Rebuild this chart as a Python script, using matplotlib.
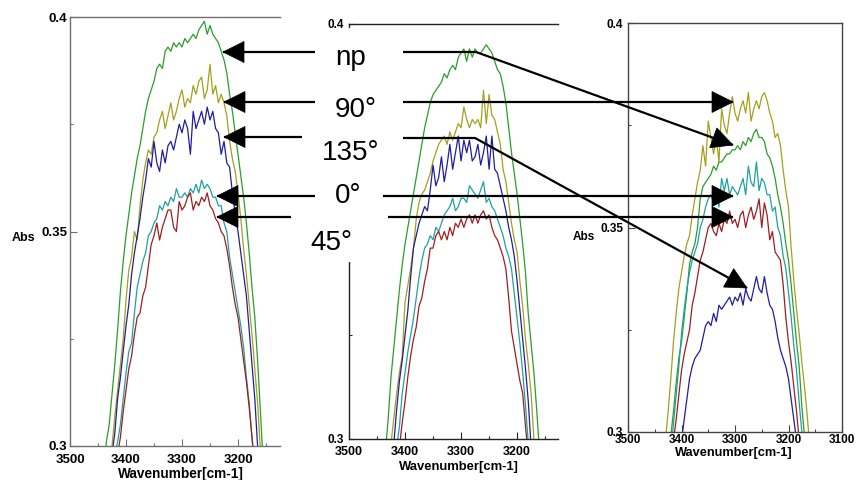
import numpy as np
import matplotlib
matplotlib.use('Agg')
import matplotlib.pyplot as plt
from matplotlib.patches import Polygon, Rectangle

W, H = 865, 480

# ---------------- data (absorbance vs wavenumber) ----------------
wavenumber = [3440, 3435, 3430, 3425, 3420, 3415, 3410, 3405, 3400, 3395,
              3390, 3385, 3380, 3375, 3370, 3365, 3360, 3355, 3350, 3345,
              3340, 3335, 3330, 3325, 3320, 3315, 3310, 3305, 3300, 3295,
              3290, 3285, 3280, 3275, 3270, 3265, 3260, 3255, 3250, 3245,
              3240, 3235, 3230, 3225, 3220, 3215, 3210, 3205, 3200, 3195,
              3190, 3185, 3180, 3175, 3170, 3165, 3160, 3155, 3150]

series_labels = ["np", "90°", "135°", "0°", "45°"]
series_colors = ["#2a9e2a", "#a4a01e", "#1e1e9e", "#20a0a0", "#9e1e1e"]

# panel 1
p1_np = [0.295, 0.301, 0.305, 0.312, 0.319, 0.327, 0.336, 0.343, 0.349, 0.354,
         0.359, 0.363, 0.367, 0.370, 0.374, 0.378, 0.381, 0.383, 0.385, 0.388,
         0.389, 0.388, 0.392, 0.393, 0.392, 0.394, 0.393, 0.394, 0.393, 0.395,
         0.394, 0.395, 0.396, 0.395, 0.397, 0.398, 0.399, 0.396, 0.398, 0.396,
         0.395, 0.394, 0.392, 0.390, 0.387, 0.382, 0.378, 0.373, 0.368, 0.363,
         0.358, 0.352, 0.345, 0.337, 0.330, 0.320, 0.308, 0.296, 0.285]
p1_90 = [0.285, 0.292, 0.296, 0.300, 0.307, 0.313, 0.319, 0.325, 0.334, 0.341,
         0.344, 0.350, 0.348, 0.356, 0.362, 0.366, 0.369, 0.368, 0.372, 0.373,
         0.376, 0.378, 0.374, 0.377, 0.380, 0.376, 0.378, 0.381, 0.383, 0.379,
         0.381, 0.380, 0.384, 0.382, 0.385, 0.386, 0.381, 0.383, 0.389, 0.382,
         0.384, 0.380, 0.382, 0.380, 0.377, 0.371, 0.367, 0.364, 0.359, 0.353,
         0.346, 0.340, 0.333, 0.326, 0.318, 0.310, 0.299, 0.290, 0.280]
p1_135 = [0.285, 0.290, 0.295, 0.298, 0.303, 0.311, 0.316, 0.322, 0.328, 0.333,
          0.340, 0.345, 0.349, 0.353, 0.358, 0.362, 0.367, 0.365, 0.371, 0.366,
          0.364, 0.369, 0.366, 0.370, 0.371, 0.369, 0.372, 0.375, 0.373, 0.376,
          0.374, 0.368, 0.378, 0.374, 0.376, 0.378, 0.375, 0.379, 0.376, 0.378,
          0.374, 0.373, 0.368, 0.371, 0.366, 0.365, 0.359, 0.354, 0.350, 0.345,
          0.340, 0.335, 0.327, 0.319, 0.311, 0.300, 0.290, 0.280, 0.270]
p1_0 = [0.283, 0.287, 0.292, 0.295, 0.298, 0.301, 0.305, 0.311, 0.317, 0.322,
        0.324, 0.331, 0.337, 0.340, 0.343, 0.345, 0.349, 0.350, 0.352, 0.353,
        0.356, 0.355, 0.357, 0.356, 0.358, 0.357, 0.360, 0.358, 0.358, 0.359,
        0.358, 0.360, 0.359, 0.361, 0.359, 0.362, 0.360, 0.361, 0.360, 0.358,
        0.358, 0.356, 0.356, 0.352, 0.350, 0.344, 0.340, 0.336, 0.332, 0.328,
        0.323, 0.316, 0.310, 0.302, 0.294, 0.285, 0.275, 0.265, 0.255]
p1_45 = [0.280, 0.284, 0.288, 0.292, 0.295, 0.298, 0.302, 0.308, 0.313, 0.318,
         0.321, 0.326, 0.330, 0.331, 0.335, 0.337, 0.342, 0.347, 0.349, 0.352,
         0.348, 0.351, 0.353, 0.355, 0.355, 0.351, 0.350, 0.357, 0.355, 0.356,
         0.358, 0.359, 0.355, 0.357, 0.356, 0.358, 0.357, 0.359, 0.356, 0.355,
         0.353, 0.352, 0.350, 0.349, 0.346, 0.342, 0.337, 0.333, 0.330, 0.325,
         0.320, 0.315, 0.309, 0.302, 0.295, 0.286, 0.276, 0.266, 0.256]

# panel 2
p2_np = [0.290, 0.297, 0.305, 0.315, 0.322, 0.329, 0.336, 0.342, 0.347, 0.351,
         0.355, 0.359, 0.363, 0.367, 0.371, 0.375, 0.378, 0.381, 0.383, 0.384,
         0.385, 0.386, 0.388, 0.387, 0.389, 0.390, 0.389, 0.392, 0.393, 0.394,
         0.391, 0.394, 0.392, 0.394, 0.393, 0.393, 0.394, 0.395, 0.394, 0.393,
         0.391, 0.389, 0.388, 0.385, 0.381, 0.375, 0.369, 0.364, 0.359, 0.353,
         0.347, 0.340, 0.330, 0.323, 0.316, 0.307, 0.297, 0.288, 0.280]
p2_90 = [0.285, 0.292, 0.297, 0.299, 0.305, 0.311, 0.316, 0.320, 0.333, 0.337,
         0.341, 0.346, 0.353, 0.357, 0.359, 0.360, 0.362, 0.364, 0.367, 0.369,
         0.371, 0.372, 0.373, 0.371, 0.374, 0.372, 0.374, 0.376, 0.375, 0.380,
         0.377, 0.375, 0.377, 0.376, 0.377, 0.375, 0.384, 0.376, 0.383, 0.378,
         0.377, 0.374, 0.371, 0.365, 0.362, 0.357, 0.352, 0.348, 0.345, 0.338,
         0.332, 0.324, 0.318, 0.311, 0.300, 0.292, 0.285, 0.278, 0.270]
p2_135 = [0.282, 0.287, 0.291, 0.295, 0.299, 0.307, 0.314, 0.319, 0.325, 0.331,
          0.339, 0.346, 0.349, 0.352, 0.354, 0.356, 0.355, 0.360, 0.366, 0.361,
          0.363, 0.368, 0.362, 0.366, 0.371, 0.365, 0.369, 0.373, 0.367, 0.372,
          0.369, 0.372, 0.367, 0.368, 0.371, 0.366, 0.369, 0.373, 0.365, 0.373,
          0.365, 0.364, 0.361, 0.358, 0.355, 0.351, 0.348, 0.344, 0.338, 0.331,
          0.324, 0.317, 0.309, 0.298, 0.290, 0.283, 0.276, 0.270, 0.265]
p2_0 = [0.278, 0.283, 0.287, 0.291, 0.295, 0.298, 0.303, 0.311, 0.316, 0.321,
        0.325, 0.329, 0.334, 0.339, 0.343, 0.346, 0.347, 0.349, 0.348, 0.351,
        0.350, 0.352, 0.354, 0.355, 0.356, 0.358, 0.355, 0.356, 0.358, 0.358,
        0.357, 0.361, 0.360, 0.359, 0.358, 0.360, 0.362, 0.357, 0.358, 0.356,
        0.355, 0.353, 0.351, 0.349, 0.346, 0.344, 0.341, 0.335, 0.329, 0.323,
        0.316, 0.308, 0.299, 0.291, 0.283, 0.276, 0.270, 0.265, 0.260]
p2_45 = [0.270, 0.275, 0.280, 0.284, 0.288, 0.292, 0.298, 0.304, 0.309, 0.315,
         0.320, 0.324, 0.327, 0.332, 0.334, 0.338, 0.341, 0.346, 0.346, 0.349,
         0.350, 0.348, 0.350, 0.348, 0.351, 0.349, 0.352, 0.351, 0.353, 0.351,
         0.353, 0.354, 0.352, 0.354, 0.352, 0.354, 0.355, 0.353, 0.354, 0.351,
         0.349, 0.348, 0.346, 0.344, 0.341, 0.334, 0.326, 0.322, 0.318, 0.314,
         0.311, 0.303, 0.296, 0.290, 0.283, 0.276, 0.270, 0.265, 0.260]

# panel 3
p3_np = [0.282, 0.287, 0.291, 0.295, 0.299, 0.305, 0.312, 0.318, 0.322, 0.328,
         0.334, 0.341, 0.344, 0.346, 0.350, 0.357, 0.360, 0.361, 0.362, 0.363,
         0.365, 0.364, 0.366, 0.366, 0.367, 0.368, 0.368, 0.369, 0.369, 0.370,
         0.369, 0.371, 0.370, 0.372, 0.371, 0.373, 0.374, 0.372, 0.372, 0.371,
         0.368, 0.367, 0.365, 0.362, 0.358, 0.355, 0.351, 0.346, 0.342, 0.336,
         0.329, 0.322, 0.316, 0.306, 0.299, 0.292, 0.286, 0.280, 0.275]
p3_90 = [0.285, 0.292, 0.298, 0.305, 0.313, 0.322, 0.329, 0.335, 0.339, 0.343,
         0.346, 0.348, 0.353, 0.357, 0.361, 0.364, 0.370, 0.365, 0.376, 0.372,
         0.368, 0.372, 0.366, 0.379, 0.375, 0.373, 0.378, 0.382, 0.378, 0.376,
         0.379, 0.381, 0.378, 0.383, 0.376, 0.379, 0.381, 0.379, 0.382, 0.383,
         0.381, 0.378, 0.376, 0.372, 0.373, 0.370, 0.364, 0.359, 0.355, 0.345,
         0.337, 0.330, 0.324, 0.317, 0.311, 0.304, 0.296, 0.289, 0.282]
p3_135 = [0.265, 0.270, 0.275, 0.280, 0.284, 0.288, 0.292, 0.295, 0.298, 0.303,
          0.308, 0.313, 0.316, 0.318, 0.319, 0.320, 0.323, 0.326, 0.327, 0.326,
          0.329, 0.327, 0.331, 0.330, 0.331, 0.332, 0.333, 0.331, 0.333, 0.332,
          0.334, 0.331, 0.335, 0.333, 0.332, 0.335, 0.338, 0.335, 0.334, 0.338,
          0.334, 0.331, 0.330, 0.327, 0.323, 0.320, 0.318, 0.316, 0.313, 0.308,
          0.303, 0.298, 0.293, 0.288, 0.283, 0.278, 0.273, 0.268, 0.263]
p3_0 = [0.275, 0.280, 0.285, 0.290, 0.295, 0.302, 0.309, 0.316, 0.324, 0.330,
        0.335, 0.339, 0.342, 0.344, 0.346, 0.350, 0.352, 0.355, 0.357, 0.358,
        0.356, 0.359, 0.355, 0.362, 0.359, 0.362, 0.358, 0.360, 0.359, 0.358,
        0.360, 0.362, 0.358, 0.365, 0.361, 0.360, 0.366, 0.359, 0.362, 0.361,
        0.358, 0.358, 0.354, 0.355, 0.350, 0.348, 0.343, 0.340, 0.334, 0.328,
        0.321, 0.315, 0.307, 0.300, 0.293, 0.286, 0.280, 0.275, 0.270]
p3_45 = [0.272, 0.277, 0.282, 0.287, 0.292, 0.298, 0.303, 0.309, 0.315, 0.319,
         0.322, 0.325, 0.331, 0.334, 0.338, 0.342, 0.344, 0.347, 0.350, 0.351,
         0.349, 0.348, 0.351, 0.349, 0.352, 0.351, 0.354, 0.351, 0.352, 0.350,
         0.353, 0.354, 0.350, 0.353, 0.355, 0.352, 0.354, 0.357, 0.350, 0.356,
         0.353, 0.347, 0.349, 0.344, 0.343, 0.342, 0.336, 0.328, 0.322, 0.317,
         0.311, 0.305, 0.298, 0.291, 0.285, 0.280, 0.275, 0.270, 0.265]

panels_data = [
    [p1_np, p1_90, p1_135, p1_0, p1_45],
    [p2_np, p2_90, p2_135, p2_0, p2_45],
    [p3_np, p3_90, p3_135, p3_0, p3_45],
]
for grp in panels_data:
    for s in grp:
        assert len(s) == len(wavenumber), len(s)

y_ticks = [0.3, 0.35, 0.4]
y_ticklabels = ["0.3", "0.35", "0.4"]
y_ticklabels_p2 = ["0.3", "", "0.4"]   # middle label hidden behind the label box
y_minor = [0.325, 0.375]

# ---------------- layout (pixel boxes) ----------------
def box(l, t, r, b):
    return [l / W, 1 - b / H, (r - l) / W, (b - t) / H]

panel_specs = [
    dict(rect=box(70, 17, 280, 446), xlim=(3500, 3125), right=False,
         xt=[3500, 3400, 3300, 3200], xm=[3450, 3350, 3250, 3150],
         ylabels=y_ticklabels,
         fs=9.5, yfs=9.5, xpad=5.5, ypad=2.0, spine='#707070'),
    dict(rect=box(349, 24, 558, 439), xlim=(3500, 3127), right=False,
         xt=[3500, 3400, 3300, 3200], xm=[3450, 3350, 3250, 3150],
         ylabels=y_ticklabels_p2,
         fs=9.0, yfs=8.5, xpad=5.0, ypad=4.0, spine='#222222'),
    dict(rect=box(628, 23, 842, 432), xlim=(3500, 3100), right=True,
         xt=[3500, 3400, 3300, 3200, 3100], xm=[3450, 3350, 3250, 3150],
         ylabels=y_ticklabels,
         fs=8.5, yfs=8.5, xpad=1.5, ypad=3.5, spine='#444444'),
]

fig = plt.figure(figsize=(W / 100, H / 100), dpi=100)
fig.patch.set_facecolor('white')

tickfont = 'Liberation Sans'

for spec, grp in zip(panel_specs, panels_data):
    ax = fig.add_axes(spec['rect'])
    for s, c in zip(grp, series_colors):
        ax.plot(wavenumber, s, color=c, lw=0.9)
    ax.set_xlim(*spec['xlim'])
    ax.set_ylim(0.3, 0.4)
    ax.set_xticks(spec['xt'])
    ax.set_xticklabels([str(v) for v in spec['xt']])
    ax.set_xticks(spec['xm'], minor=True)
    ax.set_yticks(y_ticks)
    ax.set_yticklabels(spec['ylabels'])
    ax.set_yticks(y_minor, minor=True)
    for sp in ['left', 'top', 'bottom', 'right']:
        ax.spines[sp].set_color(spec['spine'])
        ax.spines[sp].set_linewidth(1.0)
    ax.spines['right'].set_visible(spec['right'])
    ax.tick_params(which='both', direction='in', color=spec['spine'], width=0.8)
    ax.tick_params(which='major', length=5)
    ax.tick_params(which='minor', length=2.2)
    ax.tick_params(axis='x', which='major', pad=spec['xpad'], labelsize=spec['fs'])
    ax.tick_params(axis='y', which='major', pad=spec['ypad'], labelsize=spec['yfs'])
    for lab in ax.get_xticklabels() + ax.get_yticklabels():
        lab.set_fontweight('bold')
        lab.set_fontfamily(tickfont)

# ---------------- overlay: cover box, labels, arrows ----------------
ov = fig.add_axes([0, 0, 1, 1], zorder=10)
ov.set_xlim(0, W)
ov.set_ylim(H, 0)
ov.axis('off')
ov.patch.set_alpha(0)

ov.add_patch(Rectangle((292, 28), 106, 234, facecolor='white', edgecolor='none'))

bold = dict(fontweight='bold', family=tickfont)
ov.text(181, 474, "Wavenumber[cm-1]", ha='center', va='center', fontsize=9.8, **bold)
ov.text(459, 467, "Wavenumber[cm-1]", ha='center', va='center', fontsize=9.4, **bold)
ov.text(734, 453, "Wavenumber[cm-1]", ha='center', va='center', fontsize=9.2, **bold)
ov.text(24, 238, "Abs", ha='center', va='center', fontsize=9, **bold)
ov.text(584, 237, "Abs", ha='center', va='center', fontsize=8.5, **bold)

label_pos = [(335, 65), (335, 117), (322, 160), (335, 203), (310, 250)]
for (x, y), s in zip(label_pos, series_labels):
    ov.text(x, y, s, ha='left', va='baseline', fontsize=20, family='Liberation Sans')


def draw_arrow(xs, ys, L=21, Wd=10.5):
    ov.plot(xs, ys, color='black', lw=1.6, solid_capstyle='butt')
    tip = np.array([xs[-1], ys[-1]], float)
    prev = np.array([xs[-2], ys[-2]], float)
    d = (tip - prev) / np.hypot(*(tip - prev))
    n = np.array([-d[1], d[0]])
    base = tip - L * d
    ov.add_patch(Polygon([tip, base + Wd * n, base - Wd * n], closed=True,
                         facecolor='black', edgecolor='black', lw=0.5))

# left arrows (pointing into panel 1)
left_arrows = [([315, 223], [52, 52]), ([315, 224], [102, 102]),
               ([302, 224], [137, 137]), ([315, 217], [196, 196]),
               ([291, 217], [217, 217])]
# right arrows (pointing into panel 3)
right_arrows = [([403, 476, 733], [52, 52, 145]), ([403, 733], [102, 102]),
                ([403, 475, 747], [138, 138, 288]), ([383, 733], [196, 196]),
                ([388, 733], [217, 217])]
for xs, ys in left_arrows + right_arrows:
    draw_arrow(xs, ys)

fig.savefig('out.png', dpi=100, facecolor='white')
